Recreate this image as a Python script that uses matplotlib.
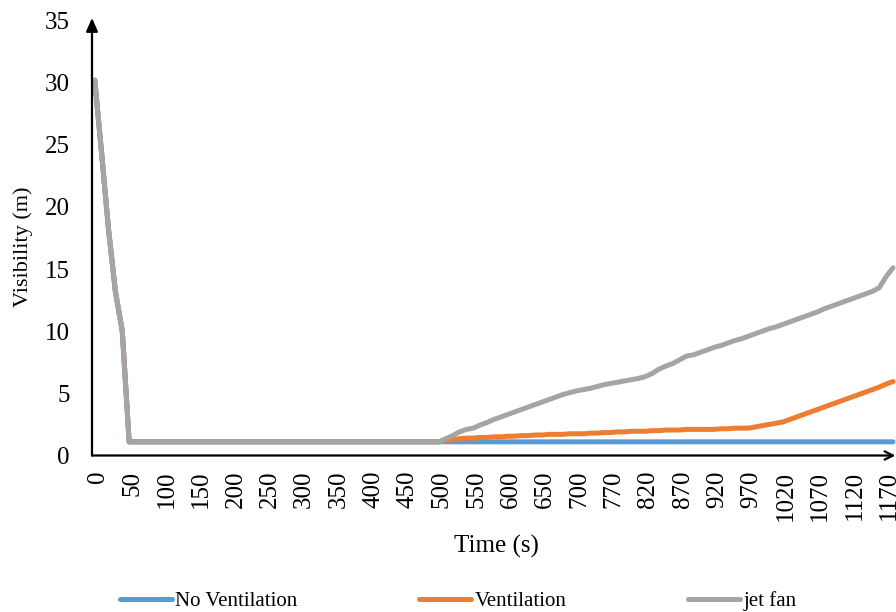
import matplotlib.pyplot as plt
from matplotlib.transforms import ScaledTranslation

plt.rcParams["font.family"] = ["Liberation Serif", "DejaVu Serif"]

# Time steps (s) of the simulation output
time_s = [
    0, 10, 20, 30, 40, 50, 60, 70, 80, 90,
    100, 110, 120, 130, 140, 150, 160, 170, 180, 190,
    200, 210, 220, 230, 240, 250, 260, 270, 280, 290,
    300, 310, 320, 330, 340, 350, 360, 370, 380, 390,
    400, 410, 420, 430, 440, 450, 460, 470, 480, 490,
    500, 510, 520, 530, 540, 550, 560, 570, 580, 590,
    600, 610, 620, 630, 640, 650, 660, 670, 680, 690,
    700, 710, 730, 750, 760, 770, 780, 790, 800, 810,
    820, 830, 840, 850, 860, 870, 880, 890, 900, 910,
    920, 930, 940, 950, 960, 970, 980, 990, 1000, 1010,
    1020, 1030, 1040, 1050, 1060, 1070, 1080, 1090, 1100, 1110,
    1120, 1130, 1140, 1150, 1160, 1170, 1180,
]

# Visibility (m) for each case
no_ventilation = [
    30.2, 24.3, 18.2, 13.2, 10.0, 1.1, 1.1, 1.1, 1.1, 1.1,
    1.1, 1.1, 1.1, 1.1, 1.1, 1.1, 1.1, 1.1, 1.1, 1.1,
    1.1, 1.1, 1.1, 1.1, 1.1, 1.1, 1.1, 1.1, 1.1, 1.1,
    1.1, 1.1, 1.1, 1.1, 1.1, 1.1, 1.1, 1.1, 1.1, 1.1,
    1.1, 1.1, 1.1, 1.1, 1.1, 1.1, 1.1, 1.1, 1.1, 1.1,
    1.1, 1.1, 1.1, 1.1, 1.1, 1.1, 1.1, 1.1, 1.1, 1.1,
    1.1, 1.1, 1.1, 1.1, 1.1, 1.1, 1.1, 1.1, 1.1, 1.1,
    1.1, 1.1, 1.1, 1.1, 1.1, 1.1, 1.1, 1.1, 1.1, 1.1,
    1.1, 1.1, 1.1, 1.1, 1.1, 1.1, 1.1, 1.1, 1.1, 1.1,
    1.1, 1.1, 1.1, 1.1, 1.1, 1.1, 1.1, 1.1, 1.1, 1.1,
    1.1, 1.1, 1.1, 1.1, 1.1, 1.1, 1.1, 1.1, 1.1, 1.1,
    1.1, 1.1, 1.1, 1.1, 1.1, 1.1, 1.1,
]
ventilation = [
    30.2, 24.3, 18.2, 13.2, 10.0, 1.1, 1.1, 1.1, 1.1, 1.1,
    1.1, 1.1, 1.1, 1.1, 1.1, 1.1, 1.1, 1.1, 1.1, 1.1,
    1.1, 1.1, 1.1, 1.1, 1.1, 1.1, 1.1, 1.1, 1.1, 1.1,
    1.1, 1.1, 1.1, 1.1, 1.1, 1.1, 1.1, 1.1, 1.1, 1.1,
    1.1, 1.1, 1.1, 1.1, 1.1, 1.1, 1.1, 1.1, 1.1, 1.1,
    1.1, 1.2, 1.3, 1.35, 1.4, 1.4, 1.45, 1.45, 1.5, 1.5,
    1.55, 1.55, 1.6, 1.6, 1.65, 1.65, 1.7, 1.7, 1.7, 1.75,
    1.75, 1.75, 1.8, 1.8, 1.85, 1.85, 1.9, 1.9, 1.95, 1.95,
    1.95, 2.0, 2.0, 2.05, 2.05, 2.05, 2.1, 2.1, 2.1, 2.1,
    2.1, 2.15, 2.15, 2.2, 2.2, 2.2, 2.3, 2.4, 2.5, 2.6,
    2.7, 2.9, 3.1, 3.3, 3.5, 3.7, 3.9, 4.1, 4.3, 4.5,
    4.7, 4.9, 5.1, 5.3, 5.5, 5.75, 5.95,
]
jet_fan = [
    30.2, 24.3, 18.2, 13.2, 10.0, 1.1, 1.1, 1.1, 1.1, 1.1,
    1.1, 1.1, 1.1, 1.1, 1.1, 1.1, 1.1, 1.1, 1.1, 1.1,
    1.1, 1.1, 1.1, 1.1, 1.1, 1.1, 1.1, 1.1, 1.1, 1.1,
    1.1, 1.1, 1.1, 1.1, 1.1, 1.1, 1.1, 1.1, 1.1, 1.1,
    1.1, 1.1, 1.1, 1.1, 1.1, 1.1, 1.1, 1.1, 1.1, 1.1,
    1.1, 1.35, 1.6, 1.9, 2.1, 2.2, 2.45, 2.65, 2.9, 3.1,
    3.3, 3.5, 3.7, 3.9, 4.1, 4.3, 4.5, 4.7, 4.9, 5.05,
    5.2, 5.3, 5.4, 5.55, 5.7, 5.8, 5.9, 6.0, 6.1, 6.2,
    6.35, 6.6, 6.95, 7.2, 7.4, 7.7, 8.0, 8.1, 8.3, 8.5,
    8.7, 8.85, 9.05, 9.25, 9.4, 9.6, 9.8, 10.0, 10.2, 10.35,
    10.55, 10.75, 10.95, 11.15, 11.35, 11.55, 11.8, 12.0, 12.2, 12.4,
    12.6, 12.8, 13.0, 13.2, 13.5, 14.4, 15.1,
]

series = [
    ("No Ventilation", no_ventilation, "#5B9BD5"),
    ("Ventilation", ventilation, "#ED7D31"),
    ("jet fan", jet_fan, "#A5A5A5"),
]

fig = plt.figure(figsize=(8.96, 6.12), dpi=100)
ax = fig.add_axes([92 / 896, 1 - 455.5 / 612, 801 / 896, 435 / 612])

idx = list(range(len(time_s)))
for name, vals, color in series:
    ax.plot(idx, vals, color=color, lw=3.6, label=name,
            solid_joinstyle="round", solid_capstyle="round", clip_on=False)

ax.set_xlim(-0.4, len(time_s) - 1)
ax.set_ylim(0, 35)
ax.set_yticks(range(0, 36, 5))
ax.set_xticks(idx[::5])
ax.set_xticklabels([str(t) for t in time_s[::5]], rotation=90,
                   ha="center", va="top", rotation_mode="default")
ax.tick_params(axis="both", length=0, labelsize=18)
ax.tick_params(axis="y", pad=16)
ax.tick_params(axis="x", pad=11)
shift = ScaledTranslation(3 / 100, 0, fig.dpi_scale_trans)
for lab in ax.get_xticklabels():
    lab.set_transform(lab.get_transform() + shift)
for s in ax.spines.values():
    s.set_visible(False)

# axis lines with arrow heads
ax.annotate("", xy=(0, 1.006), xytext=(0, 0), xycoords="axes fraction",
            arrowprops=dict(arrowstyle="-|>,head_length=0.8,head_width=0.35",
                            color="black", lw=1.6, shrinkA=0, shrinkB=0))
ax.annotate("", xy=(1.003, 0), xytext=(0, 0), xycoords="axes fraction",
            arrowprops=dict(arrowstyle="->,head_length=0.6,head_width=0.3",
                            color="black", lw=1.6, shrinkA=0, shrinkB=0))

ax.set_xlabel("Time (s)", fontsize=18)
ax.xaxis.set_label_coords(0.505, -0.183)
ax.set_ylabel("Visibility (m)", fontsize=16)
ax.yaxis.set_label_coords(-0.074, 0.479)

fig.legend(loc="center left", bbox_to_anchor=(120 / 896, 1 - 601 / 612),
           ncol=3, frameon=False, fontsize=15, handlelength=2.5,
           handletextpad=0.15, columnspacing=5.85, borderpad=0, borderaxespad=0)

fig.savefig("out.png", dpi=100)
